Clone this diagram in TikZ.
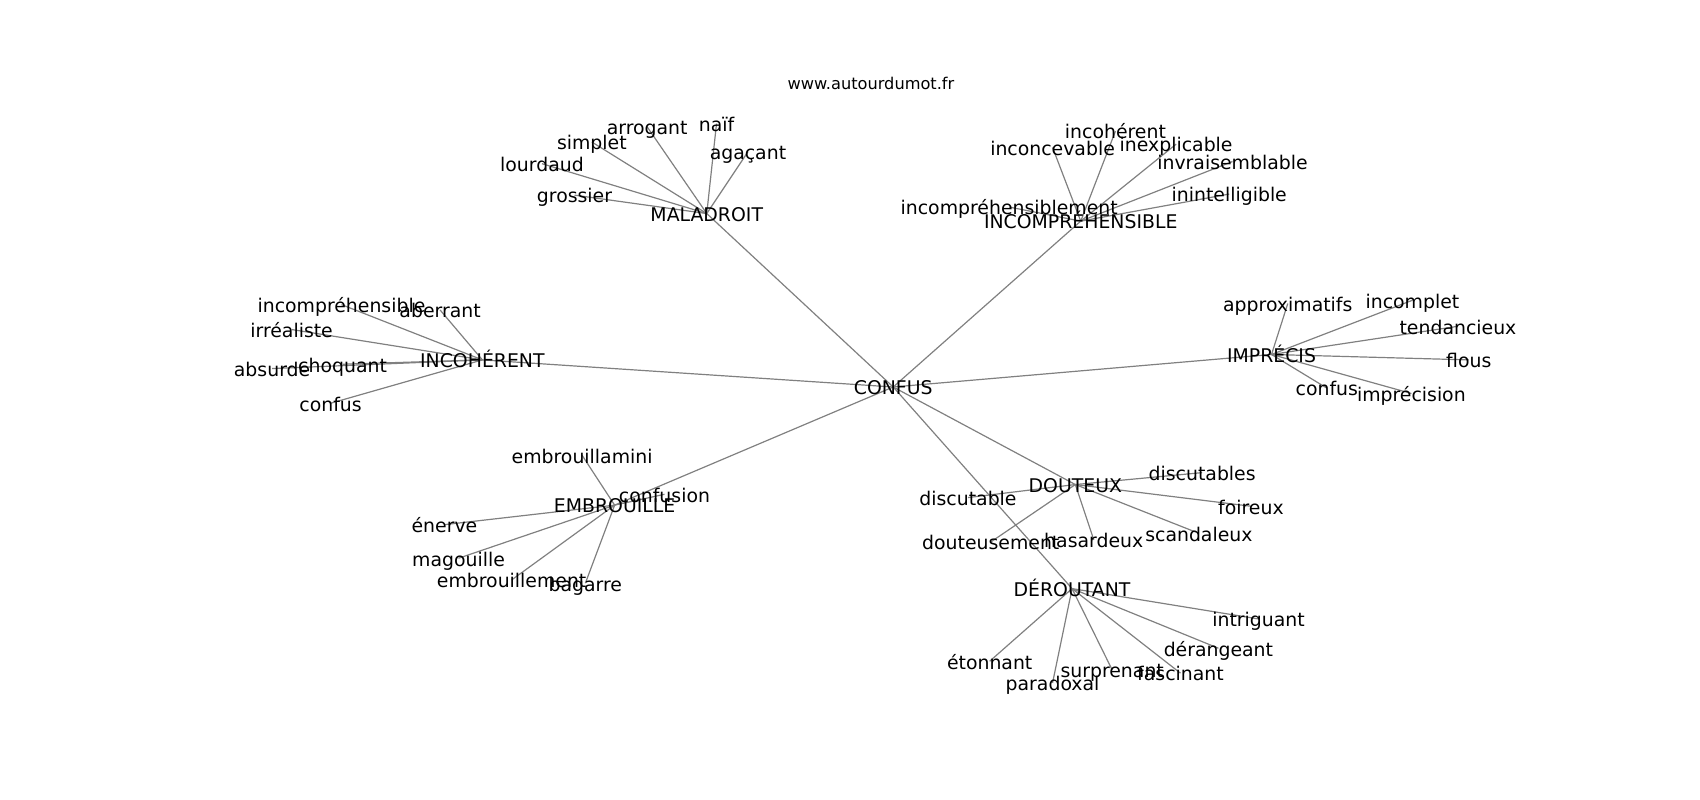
\documentclass[tikz,border=0pt]{standalone}
\usepackage{fontspec}
\setmainfont{DejaVu Sans}
\usetikzlibrary{backgrounds}
\tikzset{
  lbl/.style={font=\fontsize{9.43pt}{11pt}\selectfont, inner sep=0pt, outer sep=0pt,
    text height=8.5pt, text depth=0.68pt, anchor=center, text=black},
  ttl/.style={font=\fontsize{8.1pt}{10pt}\selectfont, inner sep=0pt, anchor=center},
  edge/.style={draw=black!50, line width=0.6pt}
}
\begin{document}
\begin{tikzpicture}[x=0.542pt, y=-0.542pt]
\useasboundingbox (0,0) rectangle (1568.3,738);
\node[ttl] (title) at (803.5,77) {www.autourdumot.fr};
% hub
\node[lbl] (hub) at (824,357) {CONFUS};
% MALADROIT
\node[lbl] (mal) at (652,197) {MALADROIT};
\node[lbl] (mal1) at (530,180) {grossier};
\node[lbl] (mal2) at (500,151) {lourdaud};
\node[lbl] (mal3) at (546,131) {simplet};
\node[lbl] (mal4) at (597,117) {arrogant};
\node[lbl] (mal5) at (661,114) {naïf};
\node[lbl] (mal6) at (690,140) {agaçant};
% INCOMPREHENSIBLE
\node[lbl] (icp) at (997,204) {INCOMPRÉHENSIBLE};
\node[lbl] (icp1) at (931,191) {incompréhensiblement};
\node[lbl] (icp2) at (971,136) {inconcevable};
\node[lbl] (icp3) at (1029,121) {incohérent};
\node[lbl] (icp4) at (1085,133) {inexplicable};
\node[lbl] (icp5) at (1137,149) {invraisemblable};
\node[lbl] (icp6) at (1134,179) {inintelligible};
% INCOHERENT
\node[lbl] (ich) at (445,332) {INCOHÉRENT};
\node[lbl] (ich1) at (315,281) {incompréhensible};
\node[lbl] (ich2) at (406,286) {aberrant};
\node[lbl] (ich3) at (269,304) {irréaliste};
\node[lbl] (ich4) at (251,340) {absurde};
\node[lbl] (ich5) at (316,336) {choquant};
\node[lbl] (ich6) at (305,372) {confus};
% IMPRECIS
\node[lbl] (imp) at (1173,327) {IMPRÉCIS};
\node[lbl] (imp1) at (1188,280) {approximatifs};
\node[lbl] (imp2) at (1303,277) {incomplet};
\node[lbl] (imp3) at (1345,301) {tendancieux};
\node[lbl] (imp4) at (1355,332) {flous};
\node[lbl] (imp5) at (1224,358) {confus};
\node[lbl] (imp6) at (1302,363) {imprécision};
% EMBROUILLE
\node[lbl] (emb) at (567,466) {EMBROUILLE};
\node[lbl] (emb1) at (537,420) {embrouillamini};
\node[lbl] (emb2) at (613,456) {confusion};
\node[lbl] (emb3) at (410,484) {énerve};
\node[lbl] (emb4) at (423,515) {magouille};
\node[lbl] (emb5) at (472,535) {embrouillement};
\node[lbl] (emb6) at (540,538) {bagarre};
% DOUTEUX
\node[lbl] (dou) at (992,447) {DOUTEUX};
\node[lbl] (dou1) at (1109,436) {discutables};
\node[lbl] (dou2) at (1154,467) {foireux};
\node[lbl] (dou3) at (893,459) {discutable};
\node[lbl] (dou4) at (914,500) {douteusement};
\node[lbl] (dou5) at (1009,498) {hasardeux};
\node[lbl] (dou6) at (1106,492) {scandaleux};
% DEROUTANT
\node[lbl] (der) at (989,543) {DÉROUTANT};
\node[lbl] (der1) at (1161,571) {intriguant};
\node[lbl] (der2) at (1124,598) {dérangeant};
\node[lbl] (der3) at (1089,621) {fascinant};
\node[lbl] (der4) at (1026,618) {surprenant};
\node[lbl] (der5) at (971,630) {paradoxal};
\node[lbl] (der6) at (913,610) {étonnant};
\begin{scope}[on background layer]
  \foreach \c in {mal,icp,ich,imp,emb,dou,der}
    \draw[edge] (hub.center) -- (\c.center);
  \foreach \c in {mal,icp,ich,imp,emb,dou,der}
    \foreach \i in {1,...,6}
      \draw[edge] (\c.center) -- (\c\i.center);
\end{scope}
\end{tikzpicture}
\end{document}
